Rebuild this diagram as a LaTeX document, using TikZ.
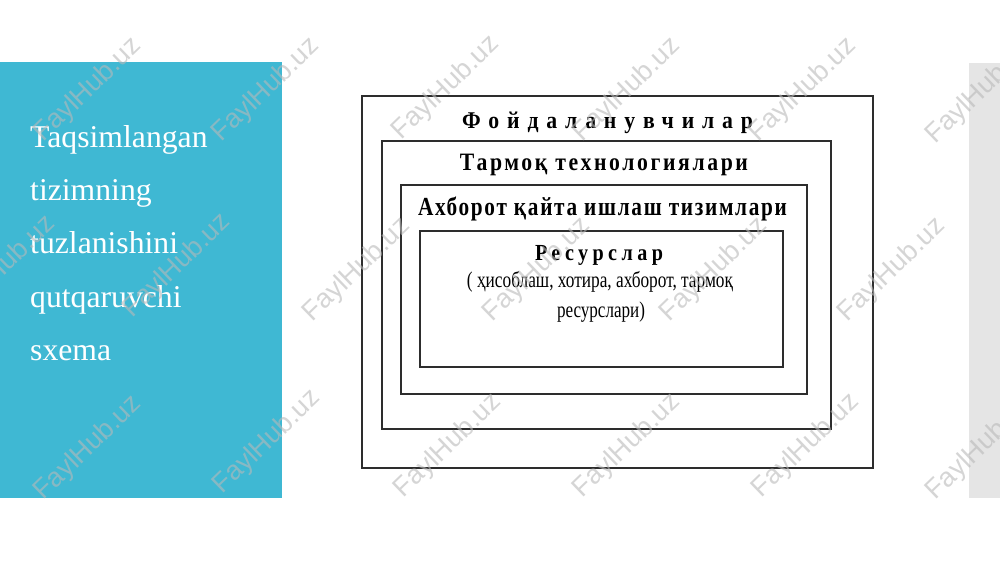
\documentclass[tikz,border=0pt]{standalone}
\usepackage{graphicx}
\usepackage{fontspec}
\setmainfont{Liberation Serif}
\newfontfamily\hsA{Liberation Serif}[LetterSpace=36]
\newfontfamily\hsB{Liberation Serif}[LetterSpace=12]
\newfontfamily\hsC{Liberation Serif}[LetterSpace=8]
\newfontfamily\hsD{Liberation Serif}[LetterSpace=22]
\newfontfamily\wmfont{Liberation Sans}
\definecolor{teal1}{RGB}{63,184,211}
\definecolor{side1}{RGB}{229,229,229}
\definecolor{line1}{RGB}{45,45,45}
\definecolor{wm1}{RGB}{185,185,185}
\tikzset{
  layer/.style={draw=line1, line width=1.4pt, fill=none, inner sep=0pt},
  head/.style={anchor=base, inner sep=0pt, text=black},
  lefttxt/.style={anchor=base west, inner sep=0pt, text=white, font=\fontsize{31.7}{31.7}\selectfont},
  wmark/.style={rotate=44, inner sep=0pt, text=wm1, opacity=0.6, font=\wmfont\fontsize{27}{27}\selectfont}
}
\begin{document}
\begin{tikzpicture}[x=1pt,y=-1pt]
\useasboundingbox (0,0) rectangle (1000,562);
\fill[white] (0,0) rectangle (1000,562);
% side panels
\fill[teal1] (0,62) rectangle (282,498);
\fill[side1] (969,63) rectangle (1000,498);
% left title
\node[lefttxt] (t1) at (30,147) {Taqsimlangan};
\node[lefttxt] (t2) at (30,200) {tizimning};
\node[lefttxt] (t3) at (30,253) {tuzlanishini};
\node[lefttxt] (t4) at (30,307) {qutqaruvchi};
\node[lefttxt] (t5) at (30,360) {sxema};
% nested layers
\node[layer, minimum width=511pt, minimum height=372pt] (b1) at (617.5,282) {};
\node[layer, minimum width=449pt, minimum height=288pt] (b2) at (606.5,285) {};
\node[layer, minimum width=406pt, minimum height=209pt] (b3) at (604,289.5) {};
\node[layer, minimum width=363pt, minimum height=136pt] (b4) at (601.5,299) {};
% labels
\node[head] (l1) at (607.5,128) {\resizebox{291pt}{\height}{\hsA\bfseries\fontsize{24}{24}\selectfont Фойдаланувчилар}};
\node[head] (l2) at (604,170) {\resizebox{288pt}{\height}{\hsB\bfseries\fontsize{25}{25}\selectfont Тармоқ технологиялари}};
\node[head] (l3) at (602.5,215) {\resizebox{369pt}{\height}{\hsC\bfseries\fontsize{26}{26}\selectfont Ахборот қайта ишлаш тизимлари}};
\node[head] (l4) at (599,260) {\resizebox{128pt}{\height}{\hsD\bfseries\fontsize{23}{23}\selectfont Ресурслар}};
\node[head] (l5) at (600,287) {\resizebox{266pt}{\height}{\fontsize{22.5}{22.5}\selectfont ( ҳисоблаш, хотира, ахборот, тармоқ}};
\node[head] (l6) at (601,317) {\resizebox{88pt}{\height}{\fontsize{22.5}{22.5}\selectfont ресурслари)}};
% watermarks
\foreach \i/\x/\y in {1/88/90,2/266/90,3/446/88,4/627/90,5/803/90,6/980/92,
  7/2/268,8/177/266,9/357/270,10/537/270,11/714/270,12/892/270,
  13/88/448,14/267/442,15/448/446,16/627/446,17/806/446,18/980/448}
  \node[wmark] (w\i) at (\x,\y) {FaylHub.uz};
\end{tikzpicture}
\end{document}
